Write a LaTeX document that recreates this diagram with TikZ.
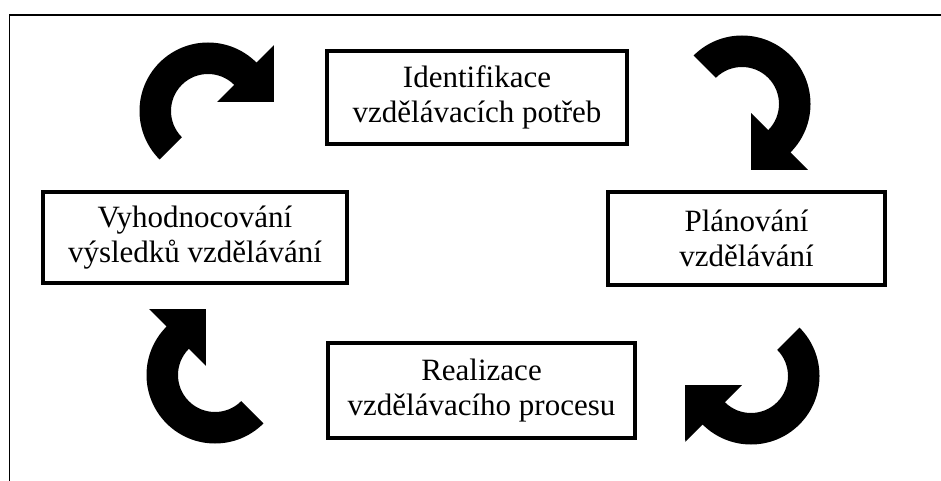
\documentclass[tikz,border=0pt]{standalone}
\usepackage{fontspec}
\setmainfont{Liberation Serif}
\begin{document}
\begin{tikzpicture}[x=1pt,y=1pt,
  box/.style={draw, line width=3.5pt, align=center, inner sep=0pt,
    font=\fontsize{31}{35}\selectfont},
  curvarrow/.pic={
    \fill[black] (225:68.5) arc[start angle=225,end angle=45,radius=68.5]
      -- (45:93) -- (65.8,9.2) -- (45:13) -- (45:37)
      arc[start angle=45,end angle=225,radius=37] -- cycle;
  }]
\useasboundingbox (0,0) rectangle (941,480);
\fill[white] (0,0) rectangle (941,480);
% frame (only top and left edges visible)
\draw[line width=1.6pt] (9.5,-5) -- (9.5,465) -- (946,465);
% boxes
\node[box, minimum width=300pt, minimum height=93pt] (ident) at (477,382.5)
  {Identifikace\\vzdělávacích potřeb};
\node[box, minimum width=304pt, minimum height=91pt] (vyhod) at (195,242.5)
  {Vyhodnocování\\výsledků vzdělávání};
\node[box, minimum width=277pt, minimum height=93pt] (plan) at (746.5,241.5)
  {Plánování\\vzdělávání};
\node[box, minimum width=307pt, minimum height=95pt] (real) at (481.5,89.5)
  {Realizace\\vzdělávacího procesu};
% curved arrows
\pic at (208,369) {curvarrow};
\pic[rotate=-90] at (742,376) {curvarrow};
\pic[rotate=180] at (751,104) {curvarrow};
\pic[rotate=90] at (215,105) {curvarrow};
\end{tikzpicture}
\end{document}
